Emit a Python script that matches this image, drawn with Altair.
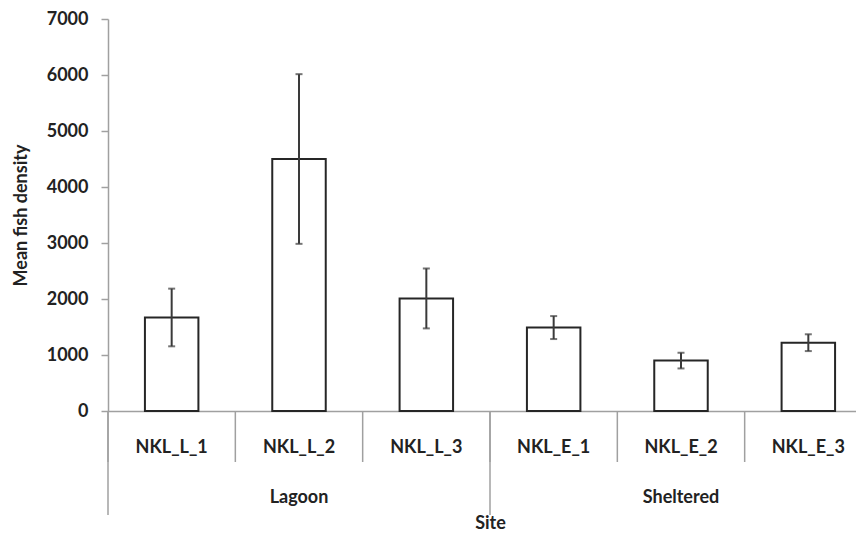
import altair as alt
import pandas as pd

sites = ["NKL_L_1", "NKL_L_2", "NKL_L_3", "NKL_E_1", "NKL_E_2", "NKL_E_3"]
groups = ["Lagoon", "Lagoon", "Lagoon", "Sheltered", "Sheltered", "Sheltered"]
means = [1670, 4500, 2010, 1490, 900, 1220]
errors = [515, 1515, 535, 205, 140, 150]

group_names = ["Lagoon", "Sheltered"]
group_center_site = ["NKL_L_2", "NKL_E_2"]
group_start_site = ["NKL_L_1", "NKL_E_1"]
y_ticks = [0, 1000, 2000, 3000, 4000, 5000, 6000, 7000]

FONT = "Lato"
AXIS_GREY = "#a0a0a0"
TXT = "#222222"
FS = 18

df = pd.DataFrame({
    "site": sites,
    "group": groups,
    "mean": means,
    "lo": [m - e for m, e in zip(means, errors)],
    "hi": [m + e for m, e in zip(means, errors)],
})
gdf = pd.DataFrame({"group": group_names, "center": group_center_site, "start": group_start_site})
last_df = pd.DataFrame({"site": [sites[-1]]})

xscale = alt.Scale(domain=sites, range=[0, 764], paddingInner=0, paddingOuter=0)
yscale = alt.Scale(domain=[0, 7000], nice=False)

H = 392

bars = alt.Chart(df).mark_bar(
    width=alt.RelativeBandSize(0.42), fill="white", stroke="#262626", strokeWidth=2
).encode(
    x=alt.X("site:N", scale=xscale, title="Site",
            axis=alt.Axis(labelFont=FONT, labelFontWeight="bold", labelFontSize=FS,
                          labelColor=TXT, labelPadding=36, labelBaseline="middle",
                          labelAlign="center", bandPosition=0.5,
                          ticks=False, tickSize=0,
                          domainColor=AXIS_GREY, domainWidth=1.5, labelAngle=0,
                          titleFont=FONT, titleFontWeight="bold", titleFontSize=FS,
                          titleColor=TXT, titleBaseline="middle", titleY=112)),
    y=alt.Y("mean:Q", scale=yscale, title="Mean fish density",
            axis=alt.Axis(values=y_ticks, format="d", grid=False, tickSize=7,
                          tickColor=AXIS_GREY, tickWidth=1.5,
                          domainColor=AXIS_GREY, domainWidth=1.5,
                          labelFont=FONT, labelFontWeight="bold", labelFontSize=FS,
                          labelColor=TXT, labelPadding=13,
                          titleFont=FONT, titleFontWeight="bold", titleFontSize=FS,
                          titleColor=TXT, titleX=-87, titleY=196,
                          titleBaseline="middle")),
)

err = alt.Chart(df).mark_rule(color="#3a3a3a", strokeWidth=2).encode(
    x=alt.X("site:N", scale=xscale),
    y=alt.Y("lo:Q", scale=yscale),
    y2="hi:Q",
)
cap_hi = alt.Chart(df).mark_tick(color="#3a3a3a", size=7, thickness=2).encode(
    x=alt.X("site:N", scale=xscale), y=alt.Y("hi:Q", scale=yscale))
cap_lo = alt.Chart(df).mark_tick(color="#3a3a3a", size=7, thickness=2).encode(
    x=alt.X("site:N", scale=xscale), y=alt.Y("lo:Q", scale=yscale))

short_sep = alt.Chart(df).mark_rule(color=AXIS_GREY, strokeWidth=1.5).encode(
    x=alt.X("site:N", scale=xscale, bandPosition=0),
    y=alt.value(H), y2=alt.value(H + 51),
)
long_sep = alt.Chart(gdf).mark_rule(color=AXIS_GREY, strokeWidth=1.5).encode(
    x=alt.X("start:N", scale=xscale, bandPosition=0),
    y=alt.value(H), y2=alt.value(H + 104),
)
end_sep = alt.Chart(last_df).mark_rule(color=AXIS_GREY, strokeWidth=1.5).encode(
    x=alt.X("site:N", scale=xscale, bandPosition=1),
    y=alt.value(H), y2=alt.value(H + 104),
)
group_text = alt.Chart(gdf).mark_text(
    font=FONT, fontWeight="bold", fontSize=FS, color=TXT, baseline="middle"
).encode(
    x=alt.X("center:N", scale=xscale),
    y=alt.value(H + 87),
    text="group:N",
)

chart = alt.layer(short_sep, long_sep, end_sep, bars, err, cap_hi, cap_lo, group_text).properties(
    width=748, height=H,
    autosize=alt.AutoSizeParams(type="none"),
    padding={"left": 100, "top": 11, "right": 0, "bottom": 121},
).configure_view(strokeWidth=0)

chart.save("out.html", embed_options={"renderer": "svg", "actions": False})
